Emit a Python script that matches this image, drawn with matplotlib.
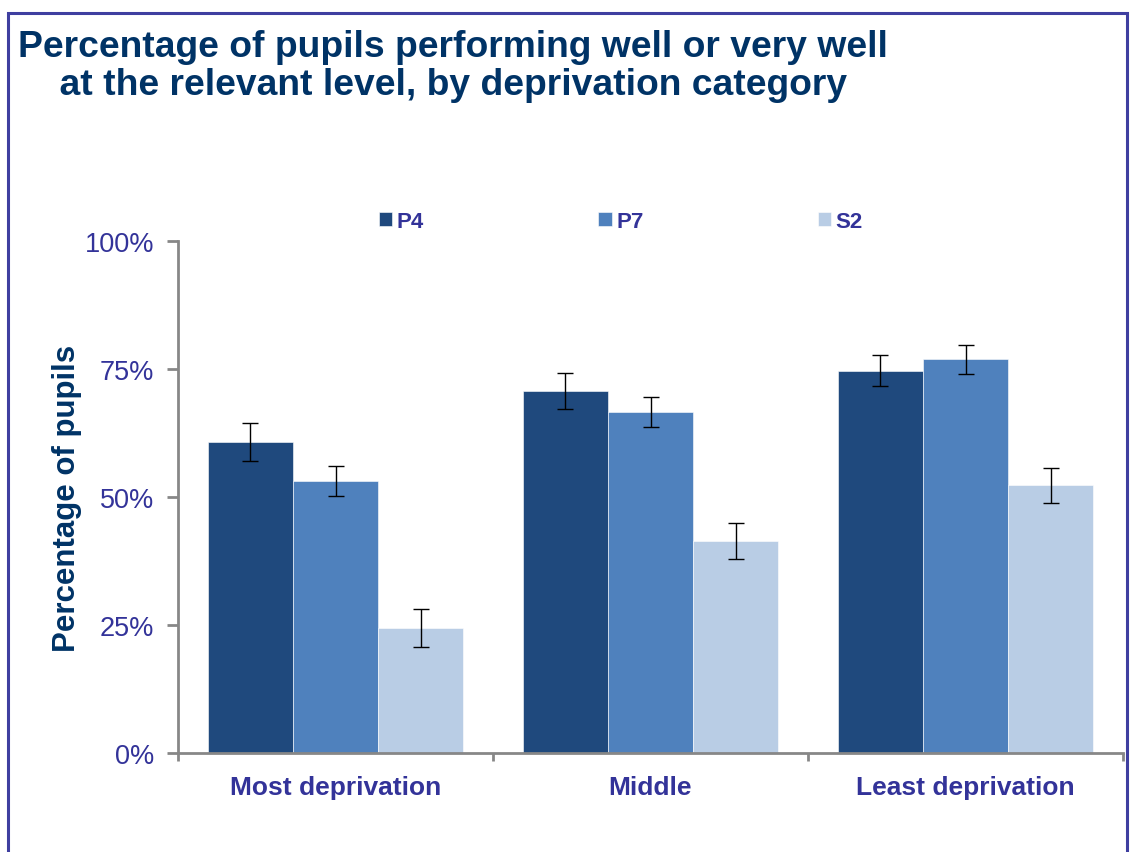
import matplotlib.pyplot as plt
import numpy as np
from matplotlib.patches import Rectangle

plt.rcParams['font.family'] = ['Liberation Sans', 'DejaVu Sans']

# datos
categorias = ['Most deprivation', 'Middle', 'Least deprivation']
series = ['P4', 'P7', 'S2']
p4 = [60.7, 70.7, 74.7]
p7 = [53.1, 66.6, 76.9]
s2 = [24.5, 41.4, 52.3]
err_p4 = [3.7, 3.5, 3.0]
err_p7 = [3.0, 3.0, 2.8]
err_s2 = [3.7, 3.5, 3.4]
yticks = [0, 25, 50, 75, 100]

colores = ['#1F497D', '#4F81BD', '#B9CDE5']
azul_txt = '#333399'
azul_titulo = '#003366'

fig = plt.figure(figsize=(11.3, 8.53), dpi=100)
ax = fig.add_axes([178/1130, 1-754/853, (1123-178)/1130, (754-242)/853])

x = np.arange(len(categorias))
ancho = 0.27
valores = [p4, p7, s2]
errores = [err_p4, err_p7, err_s2]
for i, (v, e) in enumerate(zip(valores, errores)):
    ax.bar(x + (i-1)*ancho, v, ancho, color=colores[i], edgecolor='white', linewidth=0.4,
           label=series[i], yerr=e, capsize=5.8,
           error_kw=dict(ecolor='black', elinewidth=1, capthick=1))

ax.set_xlim(-0.5, len(categorias)-0.5)
ax.set_ylim(0, 100)
ax.set_yticks(yticks)
ax.set_yticklabels([f'{t}%' for t in yticks], fontsize=19.5, color=azul_txt)
ax.set_xticks(x)
ax.set_xticklabels(categorias, fontsize=19, fontweight='bold', color=azul_txt)
ax.set_xticks(np.arange(len(categorias)+1)-0.5, minor=True)
ax.tick_params(axis='x', which='major', length=0, pad=16)
ax.tick_params(axis='x', which='minor', length=6, width=2, color='#878787', direction='out')
ax.tick_params(axis='y', length=8, width=2, color='#878787', pad=9)
for lado in ['top', 'right']:
    ax.spines[lado].set_visible(False)
for lado in ['left', 'bottom']:
    ax.spines[lado].set_color('#878787')
    ax.spines[lado].set_linewidth(2)

ax.set_ylabel('Percentage of pupils', fontsize=22.5, fontweight='bold', color=azul_titulo, labelpad=2)

leg = ax.legend(ncol=3, loc='lower left', bbox_to_anchor=(192/945, 1.0), frameon=False,
                handlelength=0.6, handleheight=0.6, handletextpad=0.2, columnspacing=7.85,
                prop={'size': 16, 'weight': 'bold'}, borderaxespad=0)
for t in leg.get_texts():
    t.set_color(azul_txt)

fig.text(18/1130, 1-30/853, 'Percentage of pupils performing well or very well\n'
         '    at the relevant level, by deprivation category',
         fontsize=26.8, fontweight='bold', color=azul_titulo, va='top', linespacing=1.12)

# marco de la diapositiva
fig.patches.append(Rectangle((8/1130, -0.02), (1127-8)/1130, 1.02-14/853, transform=fig.transFigure,
                             fill=False, edgecolor='#3F3FA0', linewidth=2.2))

fig.savefig('out.png', dpi=100)
